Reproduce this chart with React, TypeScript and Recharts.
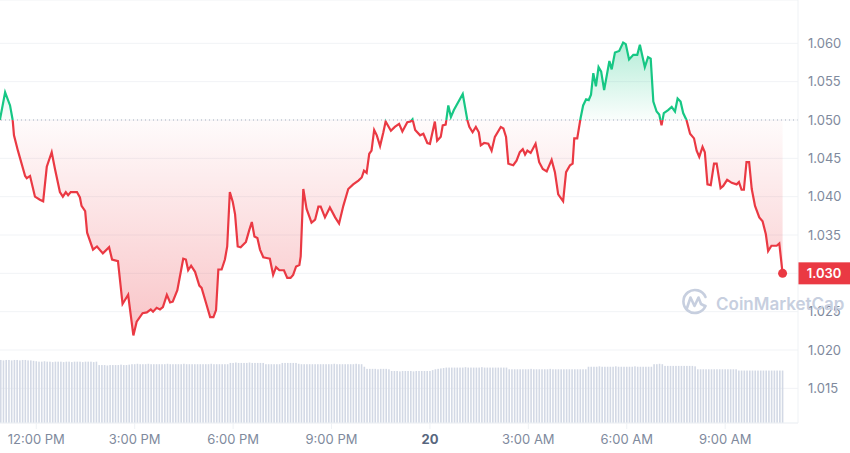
import React from 'react';
import { ComposedChart, Area, Bar, XAxis, YAxis, CartesianGrid, ReferenceLine, ReferenceDot } from 'recharts';

const GREEN = '#16c784';
const RED = '#ea3943';
const GREY = '#808a9d';
const FONT = 'Inter, "Noto Sans", sans-serif';

// reference (open) price and last price
const BASE = 1.05;
const LAST = 1.03;

// time in hours from 19th 00:00 (24 = midnight "20")
const TIMES = [
  10.89, 11.05, 11.20, 11.28, 11.32, 11.44, 11.66, 11.71, 11.81, 11.96,
  12.11, 12.21, 12.32, 12.47, 12.57, 12.72, 12.81, 12.90, 12.97, 13.05,
  13.24, 13.33, 13.38, 13.49, 13.55, 13.73, 13.85, 14.03, 14.22, 14.31,
  14.49, 14.63, 14.80, 14.96, 15.06, 15.24, 15.37, 15.49, 15.56, 15.67,
  15.77, 15.86,
  15.98, 16.08, 16.16, 16.30, 16.48, 16.56, 16.63, 16.72, 16.84, 16.97,
  17.04, 17.19, 17.30, 17.40, 17.48, 17.55, 17.65, 17.75, 17.82, 17.90,
  17.99, 18.06, 18.14, 18.23, 18.39, 18.49, 18.57, 18.65, 18.74, 18.82,
  18.92, 19.02, 19.12, 19.22, 19.31, 19.41, 19.55, 19.65, 19.75, 19.83,
  19.92, 20.02, 20.06, 20.14, 20.24, 20.39, 20.50, 20.60, 20.67, 20.80,
  20.95, 21.11, 21.23, 21.36, 21.51, 21.66, 21.82, 21.92, 21.99, 22.07,
  22.15, 22.22, 22.30, 22.38, 22.48, 22.58, 22.65, 22.81, 22.93, 23.06,
  23.16, 23.31, 23.41, 23.47, 23.55, 23.70, 23.80, 23.92, 24.00, 24.15,
  24.22, 24.33, 24.39, 24.48, 24.56, 24.64, 24.73, 25.00, 25.14, 25.20,
  25.30, 25.40, 25.49, 25.55,
  25.65, 25.78, 25.88, 25.98, 26.16, 26.24, 26.32, 26.39, 26.54, 26.64,
  26.74, 26.83, 26.90, 26.97, 27.07, 27.22, 27.33, 27.44, 27.56, 27.71,
  27.81, 27.91, 28.06, 28.15, 28.27, 28.35, 28.40, 28.49, 28.59, 28.67,
  28.76, 28.84, 28.91, 28.98, 29.06, 29.14, 29.22, 29.31, 29.47, 29.54,
  29.64, 29.77, 29.89, 29.97, 30.07, 30.20, 30.32, 30.40,
  30.55, 30.65, 30.73, 30.81, 30.91, 30.99, 31.06, 31.13, 31.26, 31.37,
  31.47, 31.55, 31.64, 31.72, 31.82, 31.93, 32.05, 32.13, 32.21, 32.31,
  32.38, 32.46, 32.56, 32.66, 32.74, 32.86, 32.94, 33.06, 33.20, 33.35,
  33.42, 33.50, 33.57, 33.65, 33.73, 33.81, 33.91, 34.04, 34.14, 34.24,
  34.31, 34.41, 34.57, 34.65, 34.75,
];

const PRICES = [
  1.0500, 1.0536, 1.0519, 1.0500, 1.0480, 1.0460, 1.0427, 1.0424, 1.0427, 1.0400,
  1.0396, 1.0394, 1.0439, 1.0458, 1.0436, 1.0406, 1.0400, 1.0406, 1.0402, 1.0406,
  1.0406, 1.0399, 1.0388, 1.0381, 1.0353, 1.0331, 1.0335, 1.0326, 1.0334, 1.0318,
  1.0316, 1.0260, 1.0272, 1.0219, 1.0237, 1.0248, 1.0249, 1.0253, 1.0250, 1.0255,
  1.0253, 1.0256,
  1.0272, 1.0262, 1.0263, 1.0278, 1.0319, 1.0318, 1.0304, 1.0310, 1.0302, 1.0284,
  1.0281, 1.0259, 1.0243, 1.0243, 1.0252, 1.0305, 1.0305, 1.0318, 1.0335, 1.0406,
  1.0393, 1.0377, 1.0335, 1.0334, 1.0341, 1.0356, 1.0367, 1.0348, 1.0346, 1.0331,
  1.0321, 1.0320, 1.0319, 1.0298, 1.0308, 1.0304, 1.0304, 1.0294, 1.0294, 1.0298,
  1.0309, 1.0311, 1.0322, 1.0410, 1.0384, 1.0366, 1.0370, 1.0387, 1.0387, 1.0373,
  1.0386, 1.0373, 1.0365, 1.0388, 1.0410, 1.0416, 1.0421, 1.0425, 1.0434, 1.0431,
  1.0456, 1.0460, 1.0487, 1.0480, 1.0466, 1.0484, 1.0498, 1.0486, 1.0491, 1.0495,
  1.0485, 1.0497, 1.0498, 1.0501, 1.0487, 1.0480, 1.0482, 1.0470, 1.0469, 1.0498,
  1.0473, 1.0478, 1.0493, 1.0494, 1.0519, 1.0504, 1.0513, 1.0534, 1.0500, 1.0491,
  1.0484, 1.0491, 1.0484, 1.0467,
  1.0470, 1.0469, 1.0460, 1.0478, 1.0491, 1.0489, 1.0478, 1.0443, 1.0441, 1.0447,
  1.0458, 1.0462, 1.0455, 1.0460, 1.0457, 1.0469, 1.0445, 1.0436, 1.0433, 1.0448,
  1.0432, 1.0403, 1.0394, 1.0432, 1.0441, 1.0443, 1.0476, 1.0476, 1.0502, 1.0519,
  1.0527, 1.0526, 1.0533, 1.0561, 1.0544, 1.0569, 1.0563, 1.0539, 1.0577, 1.0566,
  1.0588, 1.0590, 1.0601, 1.0599, 1.0579, 1.0585, 1.0585, 1.0598,
  1.0569, 1.0582, 1.0580, 1.0524, 1.0511, 1.0507, 1.0493, 1.0509, 1.0513, 1.0517,
  1.0511, 1.0528, 1.0524, 1.0509, 1.0500, 1.0482, 1.0476, 1.0460, 1.0452, 1.0465,
  1.0458, 1.0416, 1.0415, 1.0443, 1.0443, 1.0411, 1.0414, 1.0422, 1.0418, 1.0416,
  1.0419, 1.0409, 1.0409, 1.0445, 1.0445, 1.0410, 1.0388, 1.0373, 1.0368, 1.0351,
  1.0329, 1.0336, 1.0336, 1.0339, 1.0300,
];

// 5-minute volume bars (M), first bar 10:55, one row per hour
const VOL_START = 10 + 55 / 60;
const VOL_STEP = 5 / 60;
const VOLUMES = [
  149, 148, 149, 149, 148, 149, 149, 148, 149, 149, 148, 148,
  147, 146, 145, 145, 146, 145, 145, 144, 145, 145, 145, 144,
  145, 145, 144, 145, 145, 145, 144, 145, 145, 145, 144, 145,
  137, 137, 137, 136, 137, 137, 137, 137, 138, 137, 137, 138,
  139, 139, 140, 139, 139, 139, 140, 139, 139, 139, 139, 139,
  139, 140, 139, 139, 139, 139, 139, 140, 139, 139, 139, 139,
  139, 139, 139, 139, 139, 140, 139, 139, 139, 139, 139, 139,
  142, 142, 143, 142, 142, 142, 142, 143, 142, 142, 142, 142,
  142, 139, 139, 139, 139, 139, 139, 142, 142, 142, 142, 142,
  142, 140, 139, 139, 139, 139, 139, 139, 139, 139, 139, 139,
  139, 139, 140, 139, 139, 139, 139, 139, 139, 139, 140, 139,
  139, 133, 128, 128, 128, 128, 127, 128, 128, 128, 127, 123,
  123, 123, 122, 123, 123, 123, 123, 122, 123, 123, 123, 123,
  123, 123, 125, 127, 128, 129, 130, 131, 131, 131, 131, 131,
  131, 131, 132, 131, 131, 131, 131, 131, 132, 131, 131, 131,
  131, 131, 131, 131, 131, 131, 127, 127, 127, 127, 127, 127,
  127, 127, 128, 127, 127, 127, 127, 127, 127, 128, 127, 127,
  127, 127, 127, 127, 127, 127, 127, 127, 127, 127, 127, 133,
  133, 133, 133, 134, 133, 133, 133, 133, 133, 134, 133, 133,
  133, 133, 133, 133, 134, 133, 133, 133, 133, 133, 133, 139,
  139, 140, 139, 135, 135, 135, 135, 135, 135, 135, 135, 135,
  135, 135, 134, 127, 127, 127, 127, 127, 127, 127, 127, 127,
  127, 127, 127, 127, 127, 127, 124, 124, 124, 124, 124, 124,
  124, 124, 124, 124, 124, 124, 124, 124, 124, 124, 124,
];

const Y_TICKS = [1.015, 1.02, 1.025, 1.03, 1.035, 1.04, 1.045, 1.05, 1.055, 1.06];
const X_TICKS = [12, 15, 18, 21, 24, 27, 30, 33];
const X_LABELS = ['12:00 PM', '3:00 PM', '6:00 PM', '9:00 PM', '20', '3:00 AM', '6:00 AM', '9:00 AM'];

const priceRows = TIMES.map((t, i) => ({ t, price: PRICES[i] }));
const volRows = VOLUMES.map((v, i) => ({ t: VOL_START + i * VOL_STEP, vol: v }));
const data = [...priceRows, ...volRows].sort((a, b) => a.t - b.t);

const maxP = Math.max(...PRICES);
const minP = Math.min(...PRICES);
const off = (maxP - BASE) / (maxP - minP);

function XTick({ x, y, payload }: any) {
  const idx = X_TICKS.indexOf(payload.value);
  const isDay = payload.value === 24;
  return (
    <text x={x} y={y} dy="0.71em" textAnchor="middle" fontFamily={FONT} fontSize={13}
      fill={isDay ? '#58667e' : GREY} fontWeight={isDay ? 700 : 400}>
      {X_LABELS[idx]}
    </text>
  );
}

function YTick({ x, y, payload }: any) {
  if (payload.value === LAST) return <g />;
  return (
    <text x={x} y={y} dy="0.35em" textAnchor="start" fontFamily={FONT} fontSize={13} fill={GREY}>
      {payload.value.toFixed(3)}
    </text>
  );
}

// the axis is numeric and rows are interleaved, so the band is tiny: draw a fixed 1.6px bar
function VolBar(props: any) {
  const { x, y, width, height } = props;
  if (!height || height <= 0) return <g />;
  return <rect x={x + width / 2 - 0.8} y={y} width={1.6} height={height} fill="#d3d9e5" />;
}

function PriceTag({ viewBox }: any) {
  const left = viewBox.x + viewBox.width;
  const y = viewBox.y;
  return (
    <g>
      <rect x={left} y={y - 11} width={52} height={22} fill={RED} />
      <text x={left + 26} y={y} dy="0.35em" textAnchor="middle" fill="#fff" fontFamily={FONT}
        fontSize={13} fontWeight={600}>
        {LAST.toFixed(3)}
      </text>
    </g>
  );
}

export default function App() {
  return (
    <div style={{ position: 'absolute', left: 0, top: 0, width: 850, height: 453, background: '#fff' }}>
      <ComposedChart width={850} height={453} data={data} margin={{ top: 0, right: 0, bottom: 0, left: 0 }}>
        <defs>
          <linearGradient id="priceStroke" x1="0" y1="0" x2="0" y2="1">
            <stop offset={off} stopColor={GREEN} />
            <stop offset={off} stopColor={RED} />
          </linearGradient>
          <linearGradient id="priceFill" x1="0" y1="0" x2="0" y2="1">
            <stop offset={0} stopColor={GREEN} stopOpacity={0.32} />
            <stop offset={off} stopColor={GREEN} stopOpacity={0.02} />
            <stop offset={off} stopColor={RED} stopOpacity={0.02} />
            <stop offset={1} stopColor={RED} stopOpacity={0.3} />
          </linearGradient>
        </defs>
        <CartesianGrid yAxisId="price" vertical={false} stroke="#f1f3f6" />
        <XAxis dataKey="t" type="number" domain={[10.894, 35.22]} allowDataOverflow ticks={X_TICKS}
          height={30} tick={<XTick />} tickSize={6} tickMargin={6}
          axisLine={{ stroke: '#eff2f5' }} tickLine={{ stroke: '#eff2f5' }} />
        <YAxis yAxisId="price" orientation="right" width={52} domain={[1.01048, 1.06565]} allowDataOverflow
          ticks={Y_TICKS} tick={<YTick />} tickLine={false} tickMargin={4} axisLine={{ stroke: '#eff2f5' }} />
        <YAxis yAxisId="vol" hide domain={[0, 1000]} />
        <Bar yAxisId="vol" dataKey="vol" fill="#d3d9e5" shape={<VolBar />} isAnimationActive={false} />
        <ReferenceLine yAxisId="price" y={BASE} stroke="#a7b0bf" strokeDasharray="1 3" />
        <Area yAxisId="price" type="linear" dataKey="price" baseValue={BASE} connectNulls
          stroke="url(#priceStroke)" strokeWidth={2.2} fill="url(#priceFill)" fillOpacity={1}
          dot={false} activeDot={false} isAnimationActive={false} />
        <ReferenceDot yAxisId="price" x={34.75} y={LAST} r={4.5} fill={RED} stroke="none" />
        <ReferenceLine yAxisId="price" y={LAST} stroke="none" label={<PriceTag />} />
      </ComposedChart>
      <svg width={850} height={453} style={{ position: 'absolute', left: 0, top: 0, pointerEvents: 'none' }}>
        <g stroke="#c7cfdf" fill="none" strokeWidth={2.6} strokeLinecap="round" strokeLinejoin="round">
          <path d="M 705.5 306 A 11.5 11.5 0 1 1 705.5 297" />
          <path d="M 687 308 L 690.5 297.5 L 694.5 306 L 698.5 297.5 L 701 304 L 705 306" />
        </g>
        <text x={716} y={310} fontFamily={FONT} fontSize={17} fontWeight={600} fill="#c7cfdf">
          CoinMarketCap
        </text>
      </svg>
    </div>
  );
}
